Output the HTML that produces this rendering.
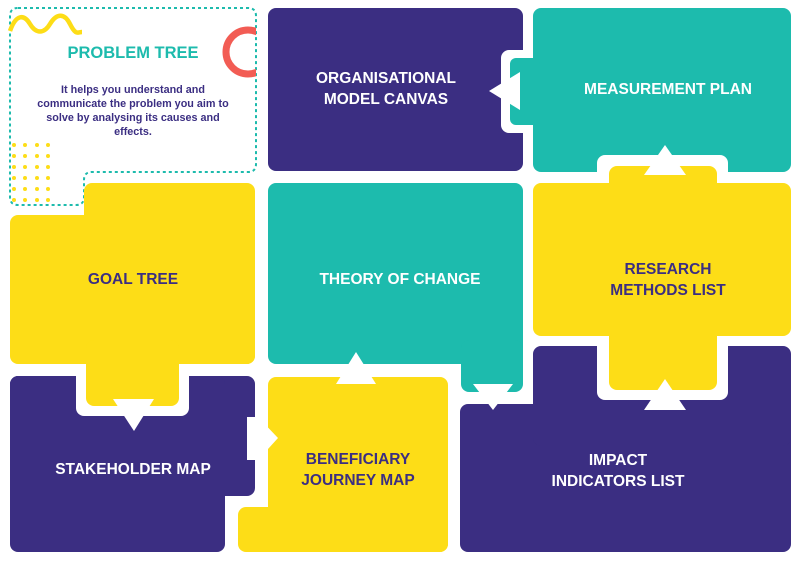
<!DOCTYPE html>
<html><head><meta charset="utf-8"><style>
html,body{margin:0;padding:0;background:#fff;}
svg{display:block}
.l{font-family:"Liberation Sans",sans-serif;font-weight:bold;font-size:15.5px;text-anchor:middle;fill:#fff}
.p{fill:#3b2e82}
.d{font-family:"Liberation Sans",sans-serif;font-weight:bold;font-size:10.8px;text-anchor:middle;fill:#3b2e82}
</style></head><body>
<svg width="800" height="561" viewBox="0 0 800 561" xmlns="http://www.w3.org/2000/svg">
<defs><clipPath id="c"><rect x="0" y="0" width="256" height="200"/></clipPath></defs>
<path d="M18,8 H248 Q256,8 256,16 V164 Q256,172 248,172 H92 Q84,172 84,180 V197 Q84,205 76,205 H18 Q10,205 10,197 V16 Q10,8 18,8 Z" fill="#fff" stroke="#1dbbad" stroke-width="2" stroke-dasharray="3 3"/>
<path d="M10,31 C16,14 24,14 30,24 S44,34 50,24 S64,12 70,24 S78,32 82,32" fill="none" stroke="#fddd17" stroke-width="4.5"/>
<circle cx="248" cy="52" r="22" fill="none" stroke="#f25c54" stroke-width="7" clip-path="url(#c)"/>
<g fill="#fddd17">
<circle cx="14" cy="145" r="2"/><circle cx="25" cy="145" r="2"/><circle cx="37" cy="145" r="2"/><circle cx="48" cy="145" r="2"/>
<circle cx="14" cy="156" r="2"/><circle cx="25" cy="156" r="2"/><circle cx="37" cy="156" r="2"/><circle cx="48" cy="156" r="2"/>
<circle cx="14" cy="167" r="2"/><circle cx="25" cy="167" r="2"/><circle cx="37" cy="167" r="2"/><circle cx="48" cy="167" r="2"/>
<circle cx="14" cy="178" r="2"/><circle cx="25" cy="178" r="2"/><circle cx="37" cy="178" r="2"/><circle cx="48" cy="178" r="2"/>
<circle cx="14" cy="189" r="2"/><circle cx="25" cy="189" r="2"/><circle cx="37" cy="189" r="2"/><circle cx="48" cy="189" r="2"/>
<circle cx="14" cy="200" r="2"/><circle cx="25" cy="200" r="2"/><circle cx="37" cy="200" r="2"/><circle cx="48" cy="200" r="2"/>
</g>
<text x="133" y="58" class="l" style="fill:#1dbbad;font-size:16.5px">PROBLEM TREE</text>
<text x="133" y="93" class="d">It helps you understand and</text>
<text x="133" y="107" class="d">communicate the problem you aim to</text>
<text x="133" y="121" class="d">solve by analysing its causes and</text>
<text x="133" y="135" class="d">effects.</text>

<rect x="268" y="8" width="255" height="163" rx="8" fill="#3b2e82"/>
<rect x="501" y="50" width="30" height="83" rx="8" fill="#fff"/>
<rect x="533" y="8" width="258" height="164" rx="8" fill="#1dbbad"/>
<rect x="510" y="58" width="30" height="67" rx="6" fill="#1dbbad"/>
<rect x="597" y="155" width="131" height="30" rx="8" fill="#fff"/>
<polygon points="489,91 520,72 520,110" fill="#fff"/>

<rect x="460" y="404" width="331" height="148" rx="8" fill="#3b2e82"/>
<rect x="533" y="346" width="258" height="100" rx="8" fill="#3b2e82"/>
<rect x="597" y="336" width="131" height="64" rx="8" fill="#fff"/>
<rect x="533" y="183" width="258" height="153" rx="8" fill="#fddd17"/>
<rect x="609" y="166" width="108" height="224" rx="8" fill="#fddd17"/>
<polygon points="665,145 686,175 644,175" fill="#fff"/>
<polygon points="665,379 686,410 644,410" fill="#fff"/>

<rect x="268" y="183" width="255" height="181" rx="8" fill="#1dbbad"/>
<rect x="461" y="340" width="62" height="52" rx="8" fill="#1dbbad"/>

<rect x="10" y="376" width="245" height="120" rx="8" fill="#3b2e82"/>
<rect x="10" y="376" width="215" height="176" rx="8" fill="#3b2e82"/>
<rect x="76" y="360" width="113" height="56" rx="8" fill="#fff"/>
<rect x="84" y="183" width="171" height="181" rx="8" fill="#fddd17"/>
<rect x="10" y="215" width="245" height="149" rx="8" fill="#fddd17"/>
<rect x="86" y="340" width="93" height="66" rx="8" fill="#fddd17"/>

<rect x="268" y="377" width="180" height="175" rx="8" fill="#fddd17"/>
<rect x="238" y="507" width="210" height="45" rx="8" fill="#fddd17"/>

<polygon points="113,399 154,399 134,431" fill="#fff"/>
<polygon points="247,417 258,417 278,438 258,460 247,460" fill="#fff"/>
<polygon points="356,352 376,384 336,384" fill="#fff"/>
<polygon points="473,384 513,384 493,410" fill="#fff"/>

<text x="386" y="83" class="l">ORGANISATIONAL</text>
<text x="386" y="104" class="l">MODEL CANVAS</text>
<text x="668" y="94" class="l">MEASUREMENT PLAN</text>
<text x="133" y="284" class="l p">GOAL TREE</text>
<text x="400" y="284" class="l">THEORY OF CHANGE</text>
<text x="668" y="274" class="l p">RESEARCH</text>
<text x="668" y="295" class="l p">METHODS LIST</text>
<text x="133" y="474" class="l">STAKEHOLDER MAP</text>
<text x="358" y="464" class="l p">BENEFICIARY</text>
<text x="358" y="485" class="l p">JOURNEY MAP</text>
<text x="618" y="465" class="l">IMPACT</text>
<text x="618" y="486" class="l">INDICATORS LIST</text>
</svg>
</body></html>
